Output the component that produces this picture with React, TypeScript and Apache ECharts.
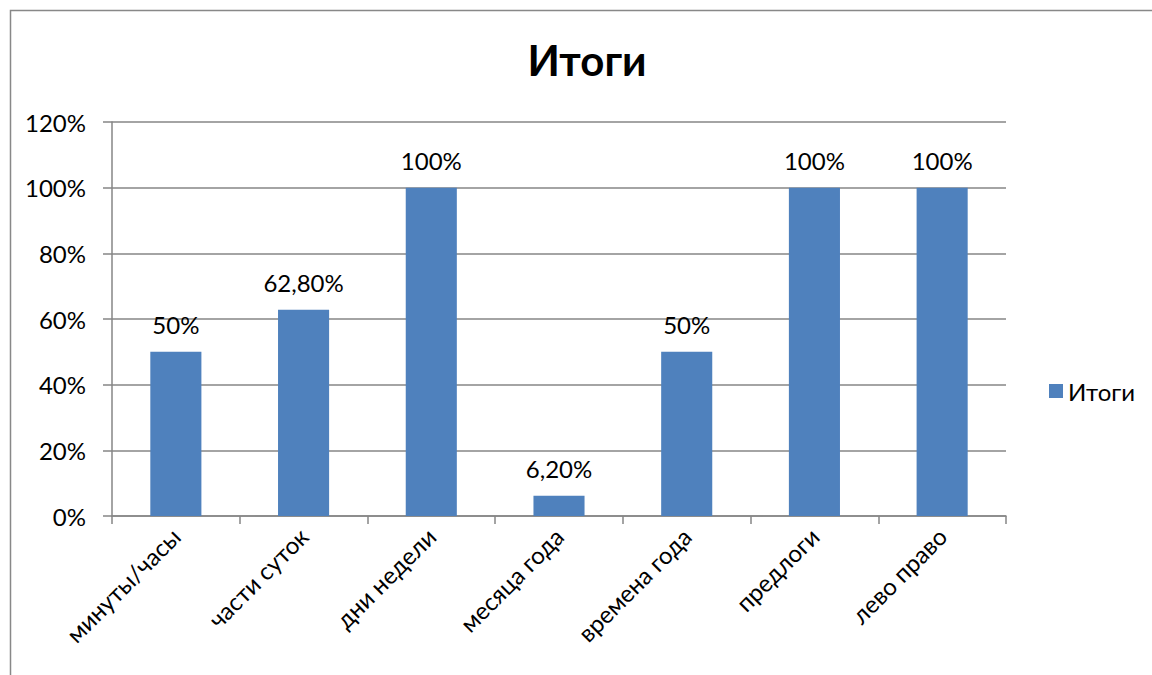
import React, { useEffect, useRef } from "react";
import * as echarts from "echarts";

const categories = ["минуты/часы", "части суток", "дни недели", "месяца года", "времена года", "предлоги", "лево право"];
const values = [0.5, 0.628, 1, 0.062, 0.5, 1, 1];
const seriesName = "Итоги";
const titleText = "Итоги";

const fmtPct = (v: number) => {
  const p = Math.round(v * 1000) / 10;
  if (Number.isInteger(p)) return p + "%";
  return p.toFixed(2).replace(".", ",") + "%";
};

export default function App() {
  const ref = useRef<HTMLDivElement>(null);
  useEffect(() => {
    const chart = echarts.init(ref.current!, null, { renderer: "svg" });
    const font = "Lato";
    chart.setOption({
      animation: false,
      backgroundColor: "#ffffff",
      textStyle: { fontFamily: font },
      title: {
        text: titleText,
        left: 582,
        textAlign: "center",
        top: 34,
        textStyle: { fontFamily: font, fontWeight: "bold", fontSize: 42, color: "#000" },
      },
      legend: {
        left: 1044,
        top: 374,
        orient: "vertical",
        itemWidth: 14,
        itemHeight: 14,
        icon: "rect",
        itemGap: 8,
        textStyle: { fontFamily: font, fontSize: 24, color: "#000" },
        data: [seriesName],
      },
      graphic: [
        {
          type: "rect",
          shape: { x: 10.5, y: 10.5, width: 1300, height: 800 },
          style: { fill: "none", stroke: "#888888", lineWidth: 1.5 },
          silent: true,
        },
      ],
      grid: { left: 112, right: 146, top: 122, bottom: 159, containLabel: false },
      xAxis: {
        type: "category",
        data: categories,
        boundaryGap: true,
        axisLine: { show: true, lineStyle: { color: "#868686", width: 1.5 } },
        axisTick: { show: true, alignWithLabel: false, length: 8, lineStyle: { color: "#868686", width: 1.5 } },
        axisLabel: {
          rotate: 45,
          interval: 0,
          margin: 16,
          fontFamily: font,
          fontSize: 24,
          color: "#000",
        },
      },
      yAxis: {
        type: "value",
        min: 0,
        max: 1.2,
        interval: 0.2,
        axisLine: { show: true, lineStyle: { color: "#868686", width: 1.5 } },
        axisTick: { show: true, length: 9, lineStyle: { color: "#868686", width: 1.5 } },
        splitLine: { show: true, lineStyle: { color: "#868686", width: 1.5 } },
        axisLabel: {
          margin: 26,
          fontFamily: font,
          fontSize: 24,
          color: "#000",
          formatter: (v: number) => Math.round(v * 100) + "%",
        },
      },
      series: [
        {
          name: seriesName,
          type: "bar",
          data: values,
          barWidth: "40%",
          itemStyle: { color: "#4F81BD" },
          label: {
            show: true,
            position: "top",
            distance: 15,
            fontFamily: font,
            fontSize: 24,
            color: "#000",
            formatter: (p: any) => fmtPct(p.value),
          },
        },
      ],
    });
    return () => chart.dispose();
  }, []);
  return (
    <div
      ref={ref}
      style={{ position: "fixed", left: 0, top: 0, width: 1152, height: 675 }}
    />
  );
}
